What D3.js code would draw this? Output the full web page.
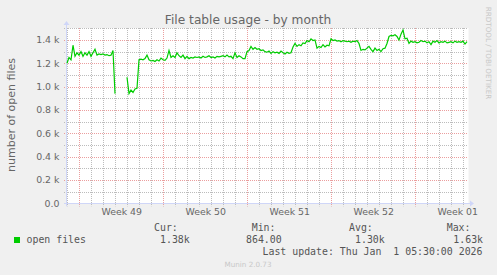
<!DOCTYPE html>
<html>
<head>
<meta charset="utf-8">
<script src="https://cdn.jsdelivr.net/npm/d3@7"></script>
<style>
  body { margin: 0; background: #f0f0f0; }
  svg { display: block; font-family: "DejaVu Sans", sans-serif; }
  .mono { font-family: "DejaVu Sans Mono", monospace; }
</style>
</head>
<body>
<svg width="497" height="275"></svg>
<script>
// **** data: 4-hourly averages, null = no data ****
var seriesName = 'open files';
var sampleStart = new Date(2025, 10, 28, 23, 30);
var sampleHours = 4;
var openFiles = [
  1200, 1250, 1230, 1355, 1260, 1290, 1270, 1300, 1260, 1290,
  1270, 1300, 1260, 1290, 1320, 1270, 1280, 1275, 1280, 1270,
  1275, 1265, 1270, 1310, 940, null, null, null, null, null,
  1080, 940, 970, 950, 980, 985, 1230, 1235, 1230, 1240,
  1270, 1230, 1220, 1225, 1215, 1230, 1220, 1245, 1230, 1225,
  1245, 1310, 1250, 1265, 1250, 1290, 1265, 1250, 1270, 1240,
  1260, 1240, 1250, 1245, 1255, 1250, 1255, 1245, 1260, 1250,
  1255, 1265, 1250, 1255, 1245, 1260, 1255, 1260, 1265, 1255,
  1270, 1255, 1260, 1240, 1290, 1250, 1265, 1255, 1240, 1240,
  1300, 1310, 1345, 1320, 1335, 1320, 1325, 1310, 1315, 1300,
  1295, 1305, 1285, 1300, 1290, 1295, 1285, 1305, 1290, 1280,
  1295, 1285, 1290, 1340, 1370, 1345, 1360, 1350, 1375, 1370,
  1395, 1385, 1410, 1395, 1400, 1330, 1345, 1335, 1360, 1340,
  1355, 1350, 1410, 1395, 1400, 1390, 1395, 1385, 1395, 1390,
  1385, 1390, 1380, 1390, 1385, 1395, 1370, 1310, 1320, 1315,
  1330, 1345, 1320, 1300, 1330, 1310, 1320, 1300, 1325, 1330,
  1370, 1430, 1440, 1435, 1445, 1430, 1400, 1450, 1485, 1410,
  1415, 1370, 1390, 1380, 1385, 1375, 1380, 1395, 1385, 1390,
  1375, 1385, 1360, 1390, 1380, 1395, 1375, 1385, 1380, 1390,
  1375, 1380, 1385, 1375, 1390, 1380, 1385, 1380, 1390, 1365,
  1385
];

var weekLabels = ['Week 49', 'Week 50', 'Week 51', 'Week 52', 'Week 01'];
var yTicks = [0, 200, 400, 600, 800, 1000, 1200, 1400];
var yTickLabels = ['0.0', '0.2 k', '0.4 k', '0.6 k', '0.8 k', '1.0 k', '1.2 k', '1.4 k'];

var legendHeads = ['Cur:', 'Min:', 'Avg:', 'Max:'];
var legendValues = ['1.38k', '864.00', '1.30k', '1.63k'];
var lastUpdate = 'Last update: Thu Jan  1 05:30:00 2026';

// **** scales ****
var svg = d3.select('svg');
var plotL = 67, plotR = 467, plotT = 28.3, plotB = 203.3;

var rows = openFiles.map(function (v, i) {
  return { date: d3.timeHour.offset(sampleStart, i * sampleHours), value: v };
});
var endDate = d3.timeHour.offset(sampleStart, 800);

var x = d3.scaleTime().domain([sampleStart, endDate]).range([plotL, plotR]);
var y = d3.scaleLinear().domain([0, 1500]).range([plotB, plotT]);

function px(v) { return Math.round(v) + 0.5; }

// canvas
svg.append('rect')
  .attr('x', plotL).attr('y', 28)
  .attr('width', plotR - plotL + 1.5).attr('height', 175.5)
  .attr('fill', '#ffffff');

// **** grid ****
var minorY = d3.range(100, 1501, 100).filter(function (v) { return v % 200 !== 0; });
var majorY = yTicks.filter(function (v) { return v > 0; });
var days = d3.timeDay.range(sampleStart, endDate);
var weeks = d3.timeSunday.range(sampleStart, endDate);

var grid = svg.append('g');
function hLines(cls, data, color) {
  grid.selectAll('line.' + cls).data(data).join('line')
    .attr('class', cls)
    .attr('x1', plotL - 3).attr('x2', plotR + 1)
    .attr('y1', function (d) { return px(y(d)); }).attr('y2', function (d) { return px(y(d)); })
    .attr('stroke', color).attr('stroke-dasharray', '1,1');
}
function vLines(cls, data, color) {
  grid.selectAll('line.' + cls).data(data).join('line')
    .attr('class', cls)
    .attr('y1', 28).attr('y2', plotB + 3)
    .attr('x1', function (d) { return px(x(d)); }).attr('x2', function (d) { return px(x(d)); })
    .attr('stroke', color).attr('stroke-dasharray', '1,1');
}
hLines('minor-y', minorY, '#bcbcbc');
vLines('minor-x', days, '#bcbcbc');
hLines('major-y', majorY, '#eb9e9e');
vLines('major-x', weeks, '#eb9e9e');

// **** axes lines + arrows ****
var axisY = px(plotB), axisX = px(plotL) - 1;
svg.append('line')
  .attr('x1', plotL - 3).attr('x2', plotR + 3)
  .attr('y1', axisY).attr('y2', axisY)
  .attr('stroke', '#cfd6f8');
svg.append('path')
  .attr('d', 'M' + (plotR + 3) + ',' + (axisY - 3) + 'L' + (plotR + 7) + ',' + axisY + 'L' + (plotR + 3) + ',' + (axisY + 3) + 'Z')
  .attr('fill', '#cfd6f8');
svg.append('line')
  .attr('x1', axisX).attr('x2', axisX)
  .attr('y1', plotB + 3).attr('y2', 25)
  .attr('stroke', '#cfd6f8');
svg.append('path')
  .attr('d', 'M' + (axisX - 3) + ',25L' + axisX + ',21L' + (axisX + 3) + ',25Z')
  .attr('fill', '#cfd6f8');

// **** tick labels ****
var labelDates = weeks.map(function (w) { return d3.timeHour.offset(w, 84); });
var xAxis = svg.append('g')
  .attr('transform', 'translate(0,' + axisY + ')')
  .call(d3.axisBottom(x).tickValues(labelDates).tickSize(0).tickPadding(5.3)
    .tickFormat(function (d, i) { return weekLabels[i]; }));
xAxis.select('.domain').remove();
xAxis.selectAll('text').attr('fill', '#666').style('font-size', '9.4px')
  .style('font-family', '"DejaVu Sans", sans-serif');

var yAxis = svg.append('g')
  .attr('transform', 'translate(' + plotL + ',0)')
  .call(d3.axisLeft(y).tickValues(yTicks).tickSize(0).tickPadding(7.5)
    .tickFormat(function (d, i) { return yTickLabels[i]; }));
yAxis.select('.domain').remove();
yAxis.selectAll('text').attr('fill', '#666').style('font-size', '9.4px')
  .style('font-family', '"DejaVu Sans", sans-serif');

// **** the line ****
var line = d3.line()
  .defined(function (d) { return d.value !== null; })
  .x(function (d) { return x(d.date); })
  .y(function (d) { return y(d.value); });

svg.append('path')
  .datum(rows)
  .attr('d', line)
  .attr('fill', 'none')
  .attr('stroke', '#00cc00')
  .attr('stroke-width', 1.2);

// **** texts ****
svg.append('text')
  .attr('x', 248).attr('y', 24)
  .attr('text-anchor', 'middle')
  .attr('fill', '#666').style('font-size', '12.2px')
  .text('File table usage - by month');

svg.append('text')
  .attr('transform', 'translate(14.5,115) rotate(-90)')
  .attr('text-anchor', 'middle')
  .attr('fill', '#666').style('font-size', '11px')
  .text('number of open files');

svg.append('text')
  .attr('transform', 'translate(485.5,53) rotate(90)')
  .attr('text-anchor', 'middle')
  .attr('fill', '#c8c8c8').style('font-size', '7.2px')
  .text('RRDTOOL / TOBI OETIKER');

// legend
svg.append('rect')
  .attr('x', 14).attr('y', 237).attr('width', 6).attr('height', 6)
  .attr('fill', '#00cc00');
svg.append('text').attr('class', 'mono')
  .attr('x', 26.5).attr('y', 242.5)
  .attr('fill', '#555').style('font-size', '9.9px')
  .text(seriesName);

var headX = [154, 251.7, 349, 446.7];
var valueX = [160, 246, 355, 453.3];
svg.selectAll('text.head').data(legendHeads).join('text')
  .attr('class', 'mono head')
  .attr('x', function (d, i) { return headX[i]; }).attr('y', 230.5)
  .attr('fill', '#555').style('font-size', '9.9px')
  .text(function (d) { return d; });
svg.selectAll('text.val').data(legendValues).join('text')
  .attr('class', 'mono val')
  .attr('x', function (d, i) { return valueX[i]; }).attr('y', 242.5)
  .attr('fill', '#555').style('font-size', '9.9px')
  .text(function (d) { return d; });

svg.append('text').attr('class', 'mono')
  .attr('x', 482.5).attr('y', 254.5)
  .attr('text-anchor', 'end')
  .style('white-space', 'pre')
  .attr('fill', '#555').style('font-size', '9.9px')
  .text(lastUpdate);

svg.append('text')
  .attr('x', 248).attr('y', 266.5)
  .attr('text-anchor', 'middle')
  .attr('fill', '#c8c8c8').style('font-size', '7.2px')
  .text('Munin 2.0.73');
</script>
</body>
</html>
